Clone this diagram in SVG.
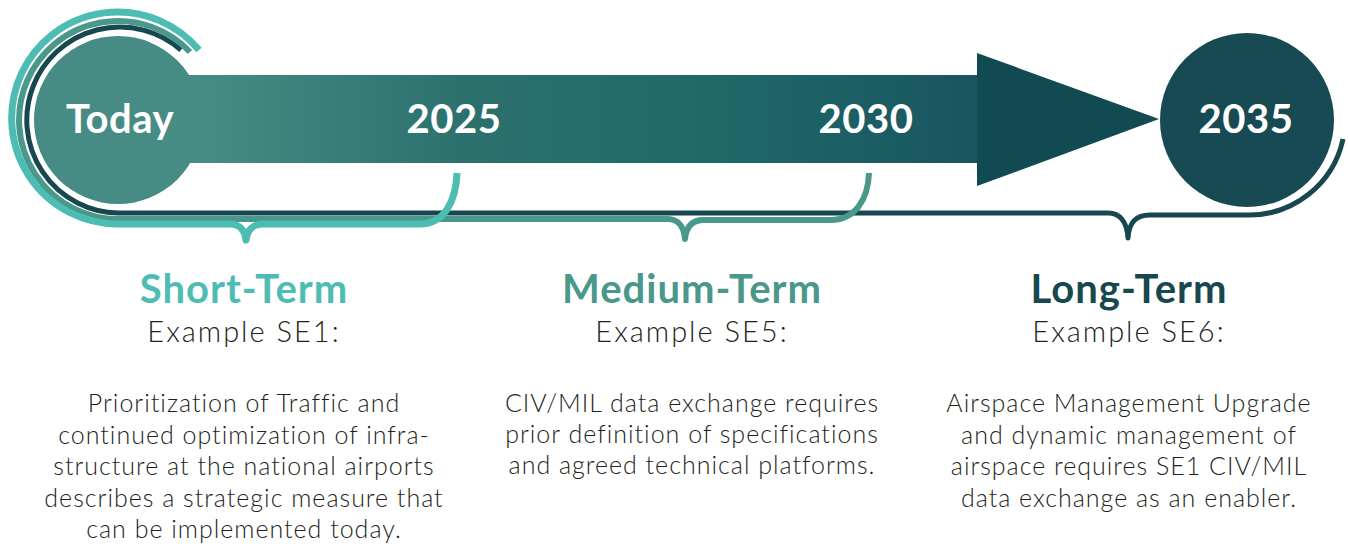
<svg xmlns="http://www.w3.org/2000/svg" width="1348" height="544" viewBox="0 0 1348 544">
  <defs>
    <linearGradient id="barGrad" gradientUnits="userSpaceOnUse" x1="160" y1="0" x2="1160" y2="0">
      <stop offset="0" stop-color="#4a9087"/>
      <stop offset="0.3" stop-color="#2c716e"/>
      <stop offset="0.55" stop-color="#216868"/>
      <stop offset="0.8" stop-color="#195760"/>
      <stop offset="1" stop-color="#11474f"/>
    </linearGradient>
    <style>
      .year { font-family: Lato, "Open Sans", sans-serif; font-weight: 700; font-size: 40px; fill: #ffffff; text-anchor: middle; letter-spacing: 0.5px; }
      .head { font-family: Lato, "Open Sans", sans-serif; font-weight: 700; font-size: 40px; text-anchor: middle; letter-spacing: 1px; }
      .sub { font-family: Lato, "Open Sans", sans-serif; font-weight: 300; font-size: 29px; fill: #231f20; text-anchor: middle; letter-spacing: 2px; }
      .body { font-family: Lato, "Open Sans", sans-serif; font-weight: 300; font-size: 25px; fill: #231f20; text-anchor: middle; letter-spacing: 1px; }
      .brace { fill: none; stroke-linecap: butt; stroke-linejoin: round; }
    </style>
  </defs>

  <g id="timeline-arrow">
    <rect x="150" y="75" width="828" height="88" fill="url(#barGrad)"/>
    <polygon points="977,53 1159,119 977,186" fill="#124a52"/>
  </g>

  <g id="connectors">
    <path class="brace" stroke="#17474f" stroke-width="5" d="M 181 50 A 93 93 0 1 0 118 213 L 1108 213 C 1120 213 1127 222 1128 238 C 1129 222 1136 215 1150 215 L 1247 215 A 96 96 0 0 0 1343 139"/>
    <path class="brace" stroke="#4a978b" stroke-width="6" d="M 190 52 A 99 99 0 1 0 118 219 L 668 219 C 678 219 684 227 685 239 C 686 227 692 220 704 220 L 830 220 C 855 220 868 200 869 173"/>
    <path class="brace" stroke="#4dbdb4" stroke-width="7" d="M 199 50 A 106 106 0 1 0 118 224 L 230 224 C 240 224 245 231 246 240 C 247 231 252 224 263 224 L 420 224 C 445 224 456 200 457 173"/>
  </g>

  <g id="node-today">
    <circle cx="118" cy="120" r="84" fill="#468c84"/>
    <text class="year" x="120" y="133">Today</text>
  </g>
  <g id="node-2025">
    <text class="year" x="454" y="133">2025</text>
  </g>
  <g id="node-2030">
    <text class="year" x="866" y="133">2030</text>
  </g>
  <g id="node-2035">
    <circle cx="1247" cy="120" r="87" fill="#174a53"/>
    <text class="year" x="1246" y="133">2035</text>
  </g>

  <g id="short-term">
    <text class="head" x="244" y="303" fill="#4dbdb4">Short-Term</text>
    <text class="sub" x="244" y="342">Example SE1:</text>
    <text class="body" x="244" y="412">Prioritization of Traffic and</text>
    <text class="body" x="244" y="444">continued optimization of infra-</text>
    <text class="body" x="244" y="475">structure at the national airports</text>
    <text class="body" x="244" y="507">describes a strategic measure that</text>
    <text class="body" x="244" y="538">can be implemented today.</text>
  </g>

  <g id="medium-term">
    <text class="head" x="692" y="303" fill="#4a978b">Medium-Term</text>
    <text class="sub" x="692" y="342">Example SE5:</text>
    <text class="body" x="692" y="412">CIV/MIL data exchange requires</text>
    <text class="body" x="692" y="443">prior definition of specifications</text>
    <text class="body" x="692" y="474">and agreed technical platforms.</text>
  </g>

  <g id="long-term">
    <text class="head" x="1129" y="303" fill="#17474f">Long-Term</text>
    <text class="sub" x="1129" y="342">Example SE6:</text>
    <text class="body" x="1129" y="412">Airspace Management Upgrade</text>
    <text class="body" x="1129" y="444">and dynamic management of</text>
    <text class="body" x="1129" y="475">airspace requires SE1 CIV/MIL</text>
    <text class="body" x="1129" y="507">data exchange as an enabler.</text>
  </g>
</svg>
